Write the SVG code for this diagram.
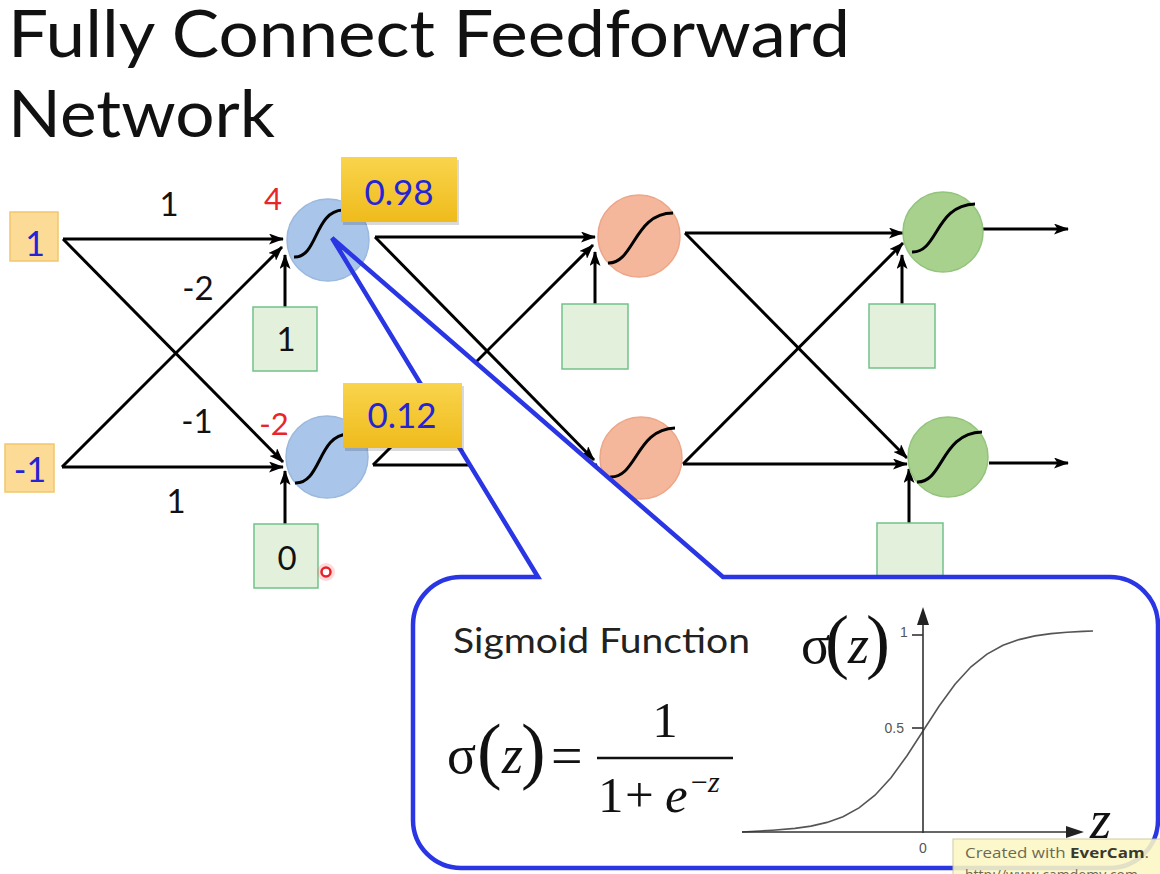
<svg xmlns="http://www.w3.org/2000/svg" width="1160" height="874" viewBox="0 0 1160 874">
<style>
.sans{font-family:Lato,"Open Sans","Liberation Sans",sans-serif}
.serif{font-family:"Liberation Serif","DejaVu Serif",serif;fill:#111}
.it{font-style:italic}
.lbl{font-family:Lato,"Open Sans","Liberation Sans",sans-serif;font-size:33px;fill:#111;text-anchor:middle}
.red{font-family:Lato,"Open Sans","Liberation Sans",sans-serif;font-size:31px;fill:#e8262a;text-anchor:middle}
.bluet{font-family:Lato,"Open Sans","Liberation Sans",sans-serif;fill:#2424d6;text-anchor:middle}
.wire{stroke:#000;stroke-width:3;fill:none;marker-end:url(#ah)}
.inbox{fill:#fcdb97;stroke:#f2c66c;stroke-width:1.5}
.bias{fill:#e3f0dc;stroke:#72c28a;stroke-width:1.5}
.nb{fill:#a9c6ea;stroke:#9bb8de;stroke-width:1.5}
.no{fill:#f5b79b;stroke:#eda688;stroke-width:1.5}
.ng{fill:#a9d18e;stroke:#93c47d;stroke-width:1.5}
.sig{fill:none;stroke:#000;stroke-width:3}
.yb{fill:url(#yg)}
.ax{stroke:#333;stroke-width:1.6;fill:none}
.tick{font-family:"Liberation Sans",Arial,sans-serif;font-size:14px;fill:#555}
</style>
<defs>
<marker id="ah" markerUnits="userSpaceOnUse" markerWidth="15" markerHeight="11" refX="14" refY="5.5" orient="auto">
<path d="M0,0 L15,5.5 L0,11 L3.5,5.5 Z" fill="#000"/>
</marker>
<linearGradient id="yg" x1="0" y1="0" x2="0" y2="1">
<stop offset="0" stop-color="#f9d44c"/>
<stop offset="1" stop-color="#efbb1c"/>
</linearGradient>
</defs>
<rect width="1160" height="874" fill="#fff"/>

<g id="title" class="sans" fill="#111" font-size="66">
<text x="8" y="57" textLength="842" lengthAdjust="spacingAndGlyphs">Fully Connect Feedforward</text>
<text x="8" y="137" textLength="267" lengthAdjust="spacingAndGlyphs">Network</text>
</g>

<g id="connectors">
<line class="wire" x1="63" y1="239" x2="283" y2="239"/>
<line class="wire" x1="63" y1="239" x2="283" y2="462"/>
<line class="wire" x1="62" y1="467" x2="283" y2="467"/>
<line class="wire" x1="62" y1="467" x2="282" y2="247"/>
<line class="wire" x1="285" y1="307" x2="285" y2="255"/>
<line class="wire" x1="285" y1="524" x2="285" y2="471"/>
<line class="wire" x1="375" y1="237" x2="595" y2="237"/>
<line class="wire" x1="375" y1="237" x2="594" y2="460"/>
<line class="wire" x1="373" y1="465" x2="597" y2="465"/>
<line class="wire" x1="373" y1="465" x2="593" y2="245"/>
<line class="wire" x1="595" y1="304" x2="595" y2="252"/>
<line class="wire" x1="685" y1="233" x2="903" y2="233"/>
<line class="wire" x1="685" y1="233" x2="907" y2="458"/>
<line class="wire" x1="683" y1="464" x2="907" y2="464"/>
<line class="wire" x1="683" y1="464" x2="903" y2="243"/>
<line class="wire" x1="902" y1="304" x2="902" y2="255"/>
<line class="wire" x1="909" y1="523" x2="909" y2="469"/>
<line class="wire" x1="983" y1="229" x2="1068" y2="229"/>
<line class="wire" x1="989" y1="463" x2="1068" y2="463"/>
</g>

<g id="in1"><rect class="inbox" x="10" y="212" width="48" height="49"/><text class="bluet" x="35" y="256" font-size="34">1</text></g>
<g id="in2"><rect class="inbox" x="5" y="444" width="49" height="48"/><text class="bluet" x="30" y="482" font-size="34">-1</text></g>

<g id="bias1"><rect class="bias" x="253" y="307" width="64" height="64"/><text class="lbl" x="286" y="351">1</text></g>
<g id="bias2"><rect class="bias" x="254" y="524" width="64" height="64"/><text class="lbl" x="287" y="570">0</text></g>
<g id="bias3"><rect class="bias" x="562" y="304" width="66" height="65"/></g>
<g id="bias4"><rect class="bias" x="869" y="304" width="66" height="64"/></g>
<g id="bias5"><rect class="bias" x="877" y="523" width="66" height="70"/></g>

<g id="h2"><circle class="nb" cx="327" cy="457" r="41"/><path class="sig" d="M295,483 C321,484 318,435 348,434"/></g>
<g id="o1"><circle class="no" cx="639" cy="236" r="41"/><path class="sig" d="M608,263 C634,264 634,213 673,213"/></g>
<g id="o2"><circle class="no" cx="641" cy="458" r="41"/><path class="sig" d="M610,477 C637,478 636,429 675,428"/></g>
<g id="g1"><circle class="ng" cx="943" cy="232" r="40"/><path class="sig" d="M912,252 C938,253 935,205 975,204"/></g>
<g id="g2"><circle class="ng" cx="948" cy="457" r="40"/><path class="sig" d="M917,482 C943,483 941,433 982,432"/></g>

<g id="labels">
<text class="lbl" x="169" y="216">1</text>
<text class="lbl" x="198" y="300">-2</text>
<text class="lbl" x="197" y="433">-1</text>
<text class="lbl" x="176" y="513">1</text>
<text class="red" x="273" y="210">4</text>
<text class="red" x="274" y="435">-2</text>
</g>

<g id="cursor"><circle cx="326" cy="572" r="9" fill="#ff6b6b" opacity="0.25"/><circle cx="326" cy="572" r="4.5" fill="#fff" stroke="#e8202a" stroke-width="2.5"/></g>

<path id="callout-fill" d="M538,577 L332,238 L723,577 L1110,577 A48,48 0 0 1 1158,625 L1158,820 A48,48 0 0 1 1110,868 L461,868 A48,48 0 0 1 413,820 L413,625 A48,48 0 0 1 461,577 Z" fill="#fff"/>

<g id="h1"><circle class="nb" cx="328" cy="240" r="41"/><path class="sig" d="M294,257 C318,258 314,211 343,210"/></g>

<path id="callout" d="M538,577 L332,238 L723,577 L1110,577 A48,48 0 0 1 1158,625 L1158,820 A48,48 0 0 1 1110,868 L461,868 A48,48 0 0 1 413,820 L413,625 A48,48 0 0 1 461,577 Z" fill="none" stroke="#2a36e4" stroke-width="4.5" stroke-linejoin="miter"/>

<g id="out1"><rect x="343" y="160" width="116" height="65" fill="#000" opacity="0.15"/><rect class="yb" x="341" y="157" width="116" height="65"/><text class="bluet" x="399" y="205" font-size="35">0.98</text></g>
<g id="out2"><rect x="345" y="386" width="119" height="65" fill="#000" opacity="0.15"/><rect class="yb" x="343" y="383" width="119" height="65"/><text class="bluet" x="402" y="428" font-size="35">0.12</text></g>

<g id="sigmoid-panel">
<text class="sans" x="453" y="653" font-size="35" fill="#222" textLength="297" lengthAdjust="spacingAndGlyphs">Sigmoid Function</text>
<text class="serif" x="447" y="773" font-size="54">σ</text>
<text class="serif" x="477" y="775" font-size="74">(</text>
<text class="serif it" x="502" y="773" font-size="54">z</text>
<text class="serif" x="521" y="775" font-size="74">)</text>
<text class="serif" x="551" y="775" font-size="56">=</text>
<line x1="597" y1="758" x2="733" y2="758" stroke="#111" stroke-width="2.5"/>
<text class="serif" x="665" y="737" font-size="51" text-anchor="middle">1</text>
<text class="serif" x="598" y="812" font-size="51">1</text>
<text class="serif" x="625" y="812" font-size="51">+</text>
<text class="serif it" x="665" y="812" font-size="51">e</text>
<text class="serif" x="691" y="792" font-size="30">−</text>
<text class="serif it" x="708" y="792" font-size="30">z</text>
</g>

<g id="graph">
<polyline fill="none" stroke="#555" stroke-width="1.6" points="742,832 772.6,830.2 795,828.4 811,826.1 827,822.4 843,816.7 859,807.9 875,795.2 891,777.7 907,755.7 923,731 939,706.3 955,684.3 971,666.8 987,654.1 1003,645.3 1019,639.6 1035,635.9 1051,633.6 1067,632.2 1083,631.4 1093,631"/>
<line class="ax" x1="742" y1="832" x2="1070" y2="832"/>
<path d="M1084,832 L1066,826 L1066,838 Z" fill="#222"/>
<line class="ax" x1="923" y1="833" x2="923" y2="622"/>
<path d="M923,607 L917,625 L929,625 Z" fill="#222"/>
<line class="ax" x1="912" y1="635" x2="923" y2="635"/>
<line class="ax" x1="912" y1="728" x2="923" y2="728"/>
<text class="tick" x="904" y="637" text-anchor="middle" font-size="13">1</text>
<text class="tick" x="904" y="733" text-anchor="end">0.5</text>
<text class="tick" x="923" y="853" text-anchor="middle">0</text>
<text class="serif" x="801" y="663" font-size="54">σ</text>
<text class="serif" x="825" y="665" font-size="72">(</text>
<text class="serif it" x="848" y="663" font-size="54">z</text>
<text class="serif" x="866" y="665" font-size="72">)</text>
<text class="serif it" x="1090" y="838" font-size="54">z</text>
</g>

<g id="watermark">
<rect x="953" y="839" width="212" height="42" fill="#fcf8c4" opacity="0.88" stroke="#c9c393" stroke-width="1"/>
<text x="965" y="858" font-family="'Open Sans','DejaVu Sans',sans-serif" font-size="14" fill="#6d6a52" textLength="184" lengthAdjust="spacingAndGlyphs">Created with <tspan font-weight="bold" fill="#3a382c">EverCam</tspan>.</text>
<text x="965" y="880" font-family="'Open Sans','DejaVu Sans',sans-serif" font-size="14" fill="#6d6a52">http://www.camdemy.com</text>
</g>
</svg>
